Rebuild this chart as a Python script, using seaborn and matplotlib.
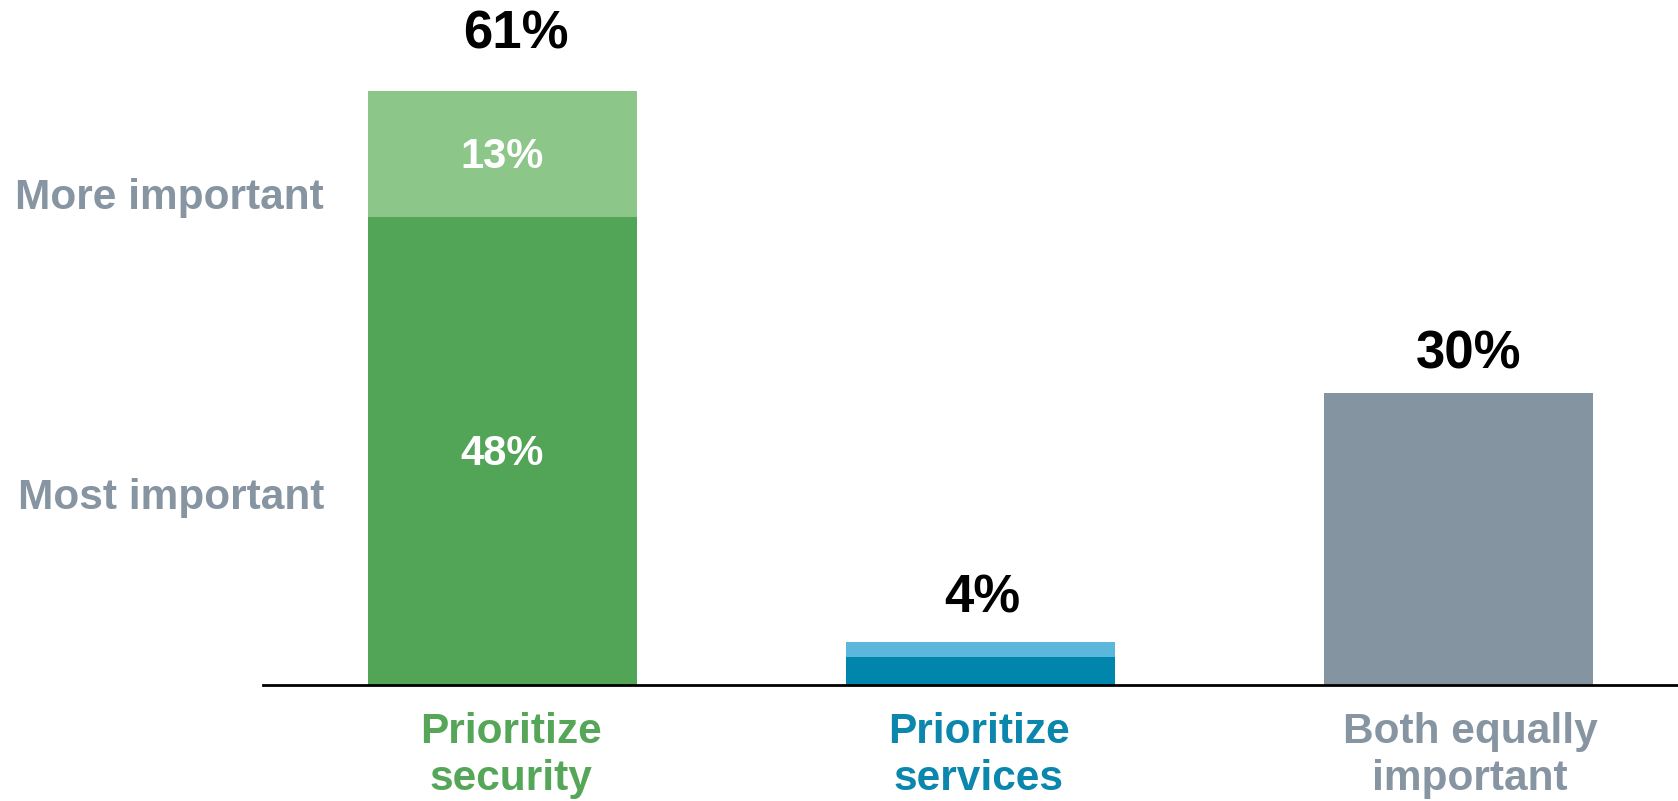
import matplotlib
matplotlib.use("Agg")
import matplotlib.pyplot as plt
import matplotlib.transforms as mtransforms
import seaborn as sns

# Survey results: share of respondents by priority
categories = ["Prioritize\nsecurity", "Prioritize\nservices", "Both equally\nimportant"]
most_important = [48, 2.9, 30]
more_important = [13, 1.5, 0]
segment_labels = ["More important", "Most important"]

totals = [a + b for a, b in zip(most_important, more_important)]

dark_colors = ["#52A457", "#0085AD", "#8494A0"]
light_colors = ["#8CC689", "#5BB8DC", "#8494A0"]
label_colors = ["#55A658", "#0B87AE", "#8695A1"]
side_label_color = "#8695A1"

sns.set_theme(style="white")
plt.rcParams["font.family"] = ["Liberation Sans", "DejaVu Sans"]
plt.rcParams["font.weight"] = "bold"

W, H, DPI = 1678, 801, 100
fig = plt.figure(figsize=(W / DPI, H / DPI), dpi=DPI)
ax_left, ax_bottom = 263 / W, (H - 685) / H
ax = fig.add_axes([ax_left, ax_bottom, 1 - ax_left, 1 - ax_bottom])


def px_shift(dx, dy):
    """Offset transform in pixels."""
    return mtransforms.ScaledTranslation(dx / DPI, dy / DPI, fig.dpi_scale_trans)


bar_width = 0.5625
# full stack (light upper segment), then the lower "most important" segment on top
sns.barplot(x=categories, y=totals, hue=categories, palette=light_colors,
            width=bar_width, saturation=1, legend=False, ax=ax, linewidth=0)
sns.barplot(x=categories, y=most_important, hue=categories, palette=dark_colors,
            width=bar_width, saturation=1, legend=False, ax=ax, linewidth=0)

ax.set_xlim(-0.5, 2.458)
ax.set_ylim(0, 70.3)
ax.set_yticks([])
ax.set_xticks([])
ax.set_ylabel("")
ax.set_xlabel("")
for side in ["left", "right", "top"]:
    ax.spines[side].set_visible(False)
ax.spines["bottom"].set_color("black")
ax.spines["bottom"].set_linewidth(2)

# category labels under the axis
cat_dx = [9, -2, 11]
xaxis_trans = ax.get_xaxis_transform()
for i, (name, c, dx) in enumerate(zip(categories, label_colors, cat_dx)):
    ax.text(i, 0, name, transform=xaxis_trans + px_shift(dx, -27),
            ha="center", va="top", color=c, fontsize=30.5, fontweight="bold",
            linespacing=1.24, clip_on=False)

# segment values inside the first bar
inner = dict(ha="center", va="center", color="white", fontsize=30, fontweight="bold",
             transform=ax.transData + px_shift(0, -3))
ax.text(0, most_important[0] / 2, f"{most_important[0]:.0f}%", **inner)
ax.text(0, most_important[0] + more_important[0] / 2, f"{more_important[0]:.0f}%", **inner)

# totals above each bar
top_dx = [14, 2, 10]
top_dy = [56, 44, 38]
for i, (t, dx, dy) in enumerate(zip(totals, top_dx, top_dy)):
    ax.annotate(f"{round(t)}%", xy=(i, t), xytext=(dx * 72 / DPI, dy * 72 / DPI),
                textcoords="offset points", ha="center", va="center",
                color="black", fontsize=38, fontweight="bold")

# segment names on the left
trans = mtransforms.blended_transform_factory(ax.transAxes, ax.transData)
x_right = (324 - 263) / (W - 263)
for name, y in zip(segment_labels, [50.0, 19.2]):
    ax.text(x_right, y, name, transform=trans, ha="right", va="center",
            color=side_label_color, fontsize=30.5, fontweight="bold", clip_on=False)

fig.savefig("out.png", dpi=DPI)
